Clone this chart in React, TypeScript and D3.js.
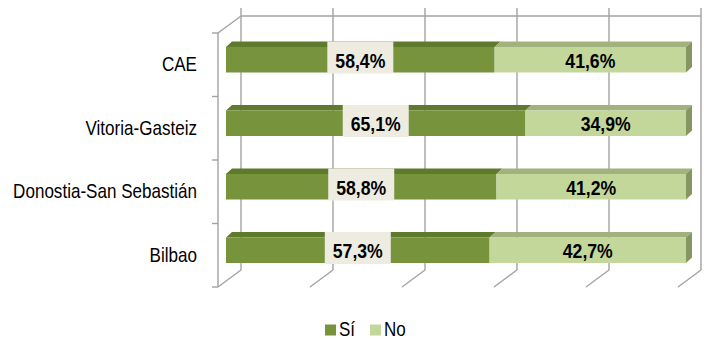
import React from "react";
import * as d3 from "d3";

const categories = ["CAE", "Vitoria-Gasteiz", "Donostia-San Sebastián", "Bilbao"];
const siValues = [58.4, 65.1, 58.8, 57.3];
const noValues = [41.6, 34.9, 41.2, 42.7];
const xTicks = [0, 20, 40, 60, 80, 100];
const seriesNames = ["Sí", "No"];

const W = 704;
const H = 339;
const FONT = "'Liberation Sans', Arial, sans-serif";
const GRID = "#A3A3A3";

// colors
const SI_FRONT = "#77933C";
const SI_TOP = "#5E7A2C";
const NO_FRONT = "#C4D79B";
const NO_TOP = "#A2B27E";
const NO_SIDE = "#859660";
const LABEL_BG = "#EEECE1";

const fmt = (v: number) => d3.format(".1f")(v).replace(".", ",") + "%";

function Scaled({ x, y, s, anchor, size, weight, children }: any) {
  return (
    <g transform={`translate(${x},${y}) scale(${s},1)`}>
      <text
        x={0}
        y={0}
        textAnchor={anchor}
        fontFamily={FONT}
        fontSize={size}
        fontWeight={weight}
        fill="#000"
      >
        {children}
      </text>
    </g>
  );
}

export default function App() {
  // front plane of the 3D box
  const xFront = d3.scaleLinear().domain([0, 100]).range([218, 678]);
  const y = d3.scaleBand().domain(categories).range([33, 287]);
  const DX = 23; // back-wall depth offset
  const DY = -17;
  // bars sit at partial depth
  const barX = (v: number) => xFront(v) + 8;
  const barTopOff = 14;
  const barH = 25.5;
  const fx = 6;
  const fy = -5.5;

  const yTop = 33;
  const yBottom = 287;
  const tickYs = [...categories.map((c) => y(c)!), yBottom];

  return (
    <svg
      width={W}
      height={H}
      style={{ position: "absolute", left: 0, top: 0, background: "#fff" }}
    >
      {/* back wall gridlines */}
      {xTicks.map((t) => (
        <line
          key={"g" + t}
          x1={xFront(t) + DX}
          x2={xFront(t) + DX}
          y1={8}
          y2={yBottom + DY}
          stroke={GRID}
          strokeWidth={1.4}
        />
      ))}
      {/* top edge of back wall */}
      <line x1={xFront(0) + DX} x2={xFront(100) + DX} y1={yTop + DY} y2={yTop + DY} stroke={GRID} strokeWidth={1.4} />
      {/* side wall top diagonal */}
      <line x1={xFront(0)} y1={yTop} x2={xFront(0) + DX} y2={yTop + DY} stroke={GRID} strokeWidth={1.4} />
      {/* floor diagonals */}
      {xTicks.map((t) => (
        <line
          key={"f" + t}
          x1={xFront(t)}
          y1={yBottom}
          x2={xFront(t) + DX}
          y2={yBottom + DY}
          stroke={GRID}
          strokeWidth={1.4}
        />
      ))}
      {/* left axis */}
      <line x1={xFront(0)} x2={xFront(0)} y1={yTop} y2={yBottom} stroke={GRID} strokeWidth={1.4} />
      {tickYs.map((ty, i) => (
        <line key={"t" + i} x1={xFront(0) - 6} x2={xFront(0)} y1={ty} y2={ty} stroke={GRID} strokeWidth={1.4} />
      ))}

      {/* bars */}
      {categories.map((c, i) => {
        const t = y(c)! + barTopOff;
        const b = t + barH;
        const x0 = barX(0);
        const x1 = barX(siValues[i]);
        const x2 = barX(siValues[i] + noValues[i]);
        const siMid = (x0 + x1) / 2;
        const noMid = (x1 + x2) / 2;
        return (
          <g key={c}>
            {/* Sí */}
            <polygon
              points={`${x0},${t} ${x0 + fx},${t + fy} ${x1 + fx},${t + fy} ${x1},${t}`}
              fill={SI_TOP}
            />
            <rect x={x0} y={t} width={x1 - x0} height={barH} fill={SI_FRONT} />
            {/* No */}
            <polygon
              points={`${x1},${t} ${x1 + fx},${t + fy} ${x2 + fx},${t + fy} ${x2},${t}`}
              fill={NO_TOP}
            />
            <rect x={x1} y={t} width={x2 - x1} height={barH} fill={NO_FRONT} />
            <polygon
              points={`${x2},${t} ${x2 + fx},${t + fy} ${x2 + fx},${b + fy} ${x2},${b}`}
              fill={NO_SIDE}
            />
            {/* labels */}
            <rect x={siMid - 33} y={t - 5.5} width={66} height={32} fill={LABEL_BG} />
            <Scaled x={siMid} y={t + 20.5} s={0.84} anchor="middle" size={21} weight="bold">
              {fmt(siValues[i])}
            </Scaled>
            <Scaled x={noMid} y={t + 20.5} s={0.84} anchor="middle" size={21} weight="bold">
              {fmt(noValues[i])}
            </Scaled>
          </g>
        );
      })}

      {/* category labels */}
      {categories.map((c) => (
        <Scaled
          key={"l" + c}
          x={197}
          y={y(c)! + y.bandwidth() / 2 + 6.5}
          s={0.853}
          anchor="end"
          size={20}
          weight="normal"
        >
          {c}
        </Scaled>
      ))}

      {/* legend */}
      {seriesNames.map((n, i) => {
        const lx = i === 0 ? 325 : 370;
        return (
          <g key={n}>
            <rect x={lx} y={324.5} width={11} height={11} fill={i === 0 ? SI_FRONT : NO_FRONT} />
            <Scaled x={lx + 14} y={336} s={0.85} anchor="start" size={20} weight="normal">
              {n}
            </Scaled>
          </g>
        );
      })}
    </svg>
  );
}
